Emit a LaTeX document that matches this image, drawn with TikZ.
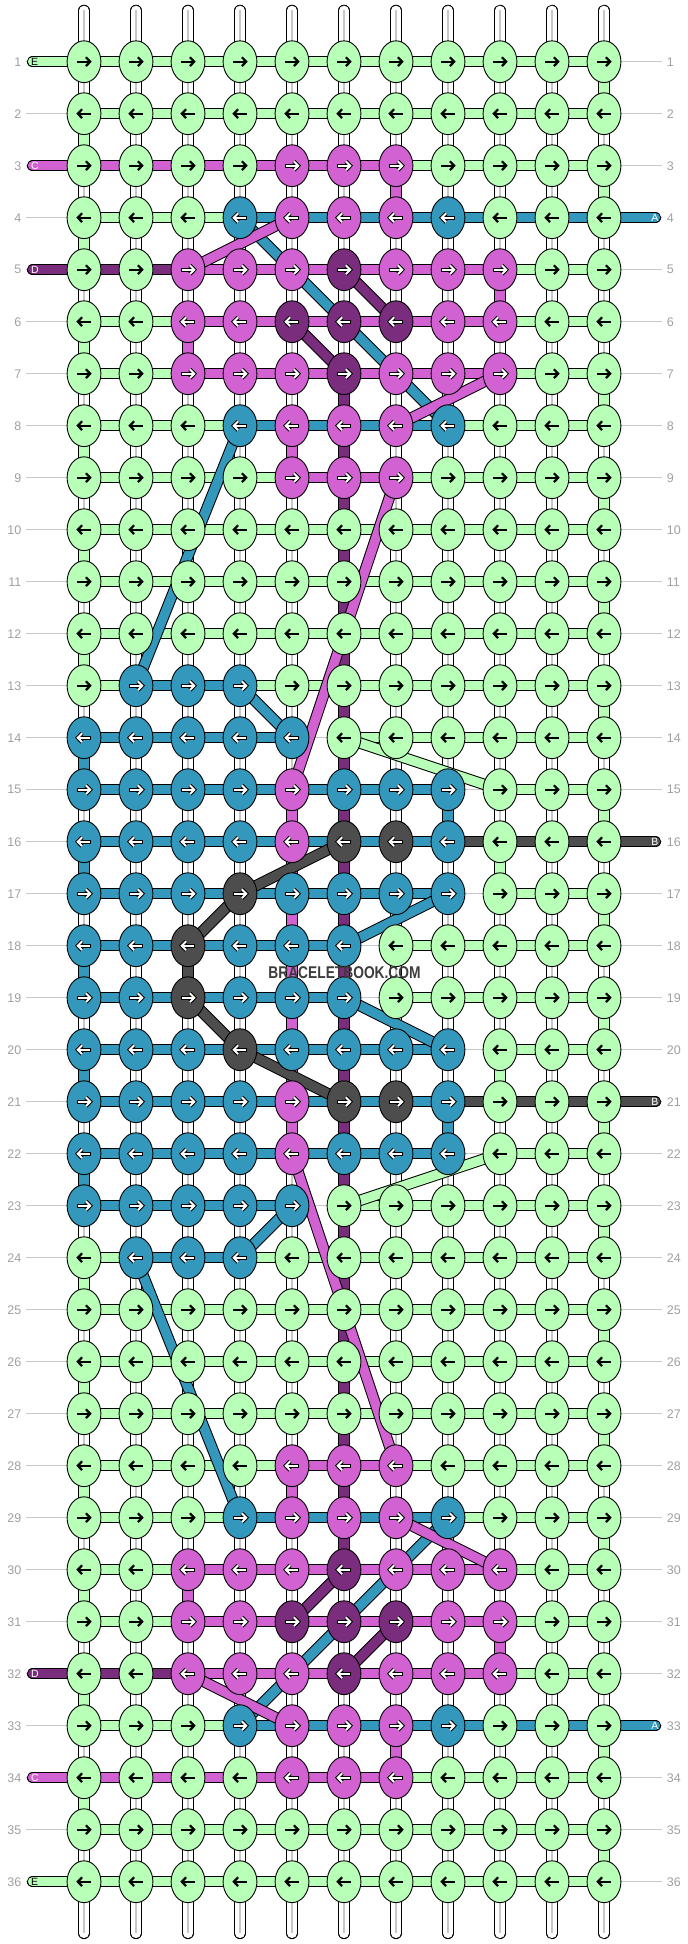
\documentclass[tikz,border=0pt]{standalone}
\usepackage{fontspec}
\setmainfont{Liberation Sans}
\usetikzlibrary{shapes.geometric}
\definecolor{cG}{HTML}{B8FFB8}
\definecolor{cP}{HTML}{D262D2}
\definecolor{cD}{HTML}{7B2D7D}
\definecolor{cB}{HTML}{3498BC}
\definecolor{cK}{HTML}{4D4D4D}
\definecolor{guide}{HTML}{C8C8C8}
\definecolor{numc}{HTML}{A0A0A0}
\definecolor{wmc}{HTML}{3C3C3C}
\tikzset{
  knot/.style={ellipse, draw=black, line width=0.9pt, minimum width=33.8pt, minimum height=41.8pt, inner sep=0pt, outer sep=0pt},
  numlab/.style={font=\fontsize{12.5}{12.5}\selectfont, text=numc, inner sep=0pt},
  taillab/.style={font=\fontsize{10.5}{10.5}\selectfont, inner sep=0pt},
  guideline/.style={draw=guide, line width=1pt}
}
\newcommand\strandseg[3]{%
  \draw[line width=11.4pt,black] (#2)--(#3);
  \draw[line width=9.4pt,color=#1] (#2)--(#3);}
\newcommand\whiteseg[2]{%
  \draw[line width=11.4pt,black] (#1)--(#2);
  \draw[line width=9.4pt,white] (#1)--(#2);
  \draw[line width=1.3pt,black!22] (#1)--(#2);}
\newcommand\blackarrow[2]{%
  \begin{scope}[shift={(#1)},xscale=#2]
    \draw[line width=2.2pt] (-6.6,0) -- (5.4,0);
    \draw[line width=2.2pt, line join=miter] (1.9,-4.4) -- (6.2,0) -- (1.9,4.4);
  \end{scope}}
\newcommand\whitearrow[2]{%
  \begin{scope}[shift={(#1)},xscale=#2]
    \draw[line width=4pt] (-7.0,0) -- (5.4,0);
    \draw[line width=4pt, line join=miter] (1.9,-4.4) -- (6.2,0) -- (1.9,4.4);
    \draw[line width=2pt, white] (-6.0,0) -- (5.4,0);
    \draw[line width=2pt, white, line join=miter] (1.9,-4.4) -- (6.2,0) -- (1.9,4.4);
  \end{scope}}
\def\noneword{N}
\begin{document}
\begin{tikzpicture}[x=1pt,y=-1pt]
\useasboundingbox (0,0) rectangle (688,1944);
% ---------- grid coordinates
\foreach \rw in {1,...,36}{
  \foreach \cl in {1,...,11}{
    \coordinate (p\rw-\cl) at ({84+52*(\cl-1)},{61.7+52*(\rw-1)});
  }
  \coordinate (gl\rw) at (26,{61.7+52*(\rw-1)});
  \coordinate (gr\rw) at (662,{61.7+52*(\rw-1)});
}
\foreach \cl in {1,...,11}{
  \coordinate (t\cl) at ({84+52*(\cl-1)},10.4);
  \coordinate (b\cl) at ({84+52*(\cl-1)},1933.4);
}
% ---------- data: knots (rows 1-18, mirrored)
\foreach \rw/\cl/\kk in {3/5/P,3/6/P,3/7/P,
 4/4/B,4/5/P,4/6/P,4/7/P,4/8/B,
 5/3/P,5/4/P,5/5/P,5/6/D,5/7/P,5/8/P,5/9/P,
 6/3/P,6/4/P,6/5/D,6/6/D,6/7/D,6/8/P,6/9/P,
 7/3/P,7/4/P,7/5/P,7/6/D,7/7/P,7/8/P,7/9/P,
 8/4/B,8/5/P,8/6/P,8/7/P,8/8/B,
 9/5/P,9/6/P,9/7/P,
 13/2/B,13/3/B,13/4/B,
 14/1/B,14/2/B,14/3/B,14/4/B,14/5/B,
 15/1/B,15/2/B,15/3/B,15/4/B,15/5/P,15/6/B,15/7/B,15/8/B,
 16/1/B,16/2/B,16/3/B,16/4/B,16/5/P,16/6/K,16/7/K,16/8/B,
 17/1/B,17/2/B,17/3/B,17/4/K,17/5/B,17/6/B,17/7/B,17/8/B,
 18/1/B,18/2/B,18/3/K,18/4/B,18/5/B,18/6/B}{
  \pgfmathtruncatemacro\mr{37-\rw}
  \expandafter\xdef\csname kn-\rw-\cl\endcsname{\kk}
  \expandafter\xdef\csname kn-\mr-\cl\endcsname{\kk}
}
% ---------- data: horizontal bars (bar from col c to c+1)
\foreach \rw/\cl/\kk in {3/1/P,3/2/P,3/3/P,3/4/P,3/5/P,3/6/P,
 4/4/B,4/5/B,4/6/B,4/7/B,4/8/B,4/9/B,4/10/B,
 5/1/D,5/2/D,5/3/P,5/4/P,5/5/P,5/6/P,5/7/P,5/8/P,
 6/3/P,6/4/P,6/5/P,6/6/P,6/7/P,6/8/P,
 7/3/P,7/4/P,7/5/P,7/6/P,7/7/P,7/8/P,
 8/4/B,8/5/B,8/6/B,8/7/B,
 9/5/P,9/6/P,
 13/2/B,13/3/B,
 14/1/B,14/2/B,14/3/B,14/4/B,14/5/N,
 15/1/B,15/2/B,15/3/B,15/4/B,15/5/B,15/6/B,15/7/B,15/8/N,
 16/1/B,16/2/B,16/3/B,16/4/B,16/5/B,16/6/B,16/7/B,16/8/K,16/9/K,16/10/K,
 17/1/B,17/2/B,17/3/B,17/4/B,17/5/B,17/6/B,17/7/B,17/8/N,
 18/1/B,18/2/B,18/3/B,18/4/B,18/5/B,18/6/N}{
  \pgfmathtruncatemacro\mr{37-\rw}
  \expandafter\xdef\csname hb-\rw-\cl\endcsname{\kk}
  \expandafter\xdef\csname hb-\mr-\cl\endcsname{\kk}
}
% ---------- data: vertical segments (between row r and r+1)
\foreach \rw/\cl/\kk in {1/11/G,2/1/G,3/7/P,3/11/G,4/1/G,5/9/P,6/1/G,6/3/P,
 7/6/D,7/11/G,8/1/G,8/5/P,8/6/D,9/6/D,9/11/G,10/1/G,10/6/D,11/6/D,11/11/G,
 12/1/G,12/6/D,13/6/D,13/11/G,14/1/B,14/6/D,15/5/P,15/6/D,15/8/B,15/11/G,
 16/1/B,16/5/P,16/6/D,16/9/G,17/5/P,17/6/D,17/11/G,18/1/B,18/3/K,18/5/P,18/6/D}{
  \pgfmathtruncatemacro\mr{36-\rw}
  \expandafter\xdef\csname vs-\rw-\cl\endcsname{\kk}
  \expandafter\xdef\csname vs-\mr-\cl\endcsname{\kk}
}
% ---------- guide lines and row numbers
\foreach \rw in {1,...,36}{
  \draw[guideline] (gl\rw) -- (gr\rw);
  \node[numlab, anchor=east] (nl\rw) at ([xshift=-4.4pt]gl\rw) {\rw};
  \node[numlab, anchor=west] (nr\rw) at ([xshift=4.6pt]gr\rw) {\rw};
}
% ---------- top and bottom tails
\foreach \cl in {1,...,11}{
  \draw[line width=11.4pt, line cap=round] (t\cl) -- (p1-\cl);
  \draw[line width=9.4pt, white, line cap=round] (t\cl) -- (p1-\cl);
  \draw[line width=1.3pt, black!22] (t\cl) -- (p1-\cl);
  \draw[line width=11.4pt, line cap=round] (b\cl) -- (p36-\cl);
  \draw[line width=9.4pt, white, line cap=round] (b\cl) -- (p36-\cl);
  \draw[line width=1.3pt, black!22] (b\cl) -- (p36-\cl);
}
% ---------- vertical segments
\foreach \rw in {1,...,35}{
  \pgfmathtruncatemacro\rn{\rw+1}
  \foreach \cl in {1,...,11}{
    \ifcsname vs-\rw-\cl\endcsname
      \edef\kk{\csname vs-\rw-\cl\endcsname}
      \strandseg{c\kk}{p\rw-\cl}{p\rn-\cl}
    \else
      \whiteseg{p\rw-\cl}{p\rn-\cl}
    \fi
  }
}
% ---------- side tails
\foreach \rw/\kk in {1/G,3/P,5/D,32/D,34/P,36/G}{
  \coordinate (lt\rw) at ([xshift=6.6pt]gl\rw);
  \draw[line width=11.4pt, line cap=round] (lt\rw) -- (p\rw-1);
  \draw[line width=9.4pt, line cap=round, color=c\kk] (lt\rw) -- (p\rw-1);
}
\foreach \rw/\kk in {4/B,33/B,16/K,21/K}{
  \coordinate (rt\rw) at ([xshift=-6.6pt]gr\rw);
  \draw[line width=11.4pt, line cap=round] (rt\rw) -- (p\rw-11);
  \draw[line width=9.4pt, line cap=round, color=c\kk] (rt\rw) -- (p\rw-11);
}
% ---------- horizontal bars
\foreach \rw in {1,...,36}{
  \foreach \cl in {1,...,10}{
    \pgfmathtruncatemacro\cn{\cl+1}
    \ifcsname hb-\rw-\cl\endcsname
      \edef\kk{\csname hb-\rw-\cl\endcsname}
    \else
      \def\kk{G}
    \fi
    \ifx\kk\noneword\else
      \strandseg{c\kk}{p\rw-\cl}{p\rw-\cn}
    \fi
  }
}
% ---------- diagonal strands (rows 1-18 and mirror)
\foreach \ra/\ca/\rb/\cb/\kk in {4/4/8/8/B,4/5/5/3/P,5/6/6/7/D,6/5/7/6/D,7/9/8/7/P,
  8/4/13/2/B,9/7/15/5/P,13/4/14/5/B,14/6/15/9/G,16/6/17/4/K,17/8/18/6/B,17/4/18/3/K}{
  \pgfmathtruncatemacro\ma{37-\ra}
  \pgfmathtruncatemacro\mb{37-\rb}
  \strandseg{c\kk}{p\ra-\ca}{p\rb-\cb}
  \strandseg{c\kk}{p\ma-\ca}{p\mb-\cb}
}
% ---------- knots
\foreach \rw in {1,...,36}{
  \pgfmathtruncatemacro\dir{1-2*mod(\rw+1,2)}
  \foreach \cl in {1,...,11}{
    \ifcsname kn-\rw-\cl\endcsname
      \edef\kk{\csname kn-\rw-\cl\endcsname}
      \node[knot, fill=c\kk] (k\rw-\cl) at (p\rw-\cl) {};
      \whitearrow{p\rw-\cl}{\dir}
    \else
      \node[knot, fill=cG] (k\rw-\cl) at (p\rw-\cl) {};
      \blackarrow{p\rw-\cl}{\dir}
    \fi
  }
}
% ---------- tail letters
\foreach \rw/\lab/\txc in {1/E/black,3/C/white,5/D/white,32/D/white,34/C/white,36/E/black}{
  \node[taillab, anchor=west, text=\txc] (ll\rw) at ([xshift=4.8pt]gl\rw) {\lab};
}
\foreach \rw/\lab in {4/A,33/A,16/B,21/B}{
  \node[taillab, anchor=east, text=white] (lr\rw) at ([xshift=-3.4pt]gr\rw) {\lab};
}
% ---------- watermark
\node[font=\bfseries\fontsize{17}{17}\selectfont, text=wmc, inner sep=0pt] (wm) at (344.5,972.2) {\scalebox{0.81}[1]{BRACELETBOOK.COM}};
\end{tikzpicture}
\end{document}
